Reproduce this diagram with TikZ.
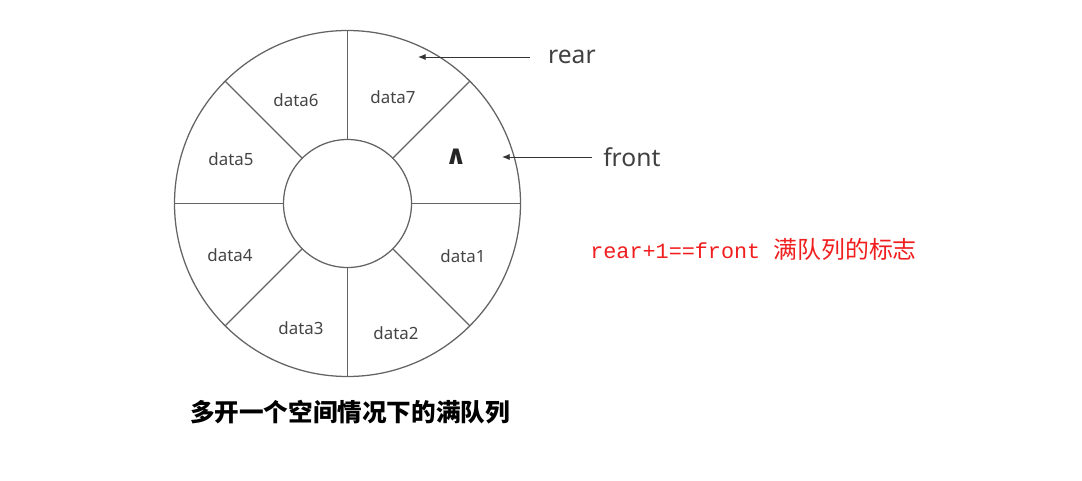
\documentclass[tikz,border=0pt]{standalone}
\usepackage{fontspec}
\setmainfont{Noto Sans}
\setmonofont{Liberation Mono}
\newfontfamily\cjk{Noto Sans CJK SC}
\newfontfamily\symbolfont{DejaVu Sans}
\usetikzlibrary{arrows.meta}

\definecolor{ringgray}{HTML}{646464}
\definecolor{labelgray}{HTML}{444444}
\definecolor{markred}{HTML}{F01E1E}

\tikzset{
  ring/.style={draw=ringgray,line width=0.9pt},
  slot/.style={text=labelgray,font=\fontsize{12}{14}\selectfont,inner sep=0pt},
  pointer/.style={-{Latex[length=5.5pt,width=4.5pt]},black!80,line width=0.7pt},
  ptrlabel/.style={text=black!75,font=\fontsize{17.5}{20}\selectfont,anchor=west},
}

\begin{document}
\begin{tikzpicture}[x=0.025cm,y=-0.025cm]
    \useasboundingbox (0,0) rectangle (1082,480);

    % ring buffer
    \begin{scope}[shift={(347.5,203.5)}]
        \draw[ring] (0,0) circle (173);
        \draw[ring] (0,0) circle (64);
        \draw[ring] (0:64) -- (0:173);
        \draw[ring] (45:64) -- (45:173);
        \draw[ring] (90:64) -- (90:173);
        \draw[ring] (135:64) -- (135:173);
        \draw[ring] (180:64) -- (180:173);
        \draw[ring] (225:64) -- (225:173);
        \draw[ring] (270:64) -- (270:173);
        \draw[ring] (315:64) -- (315:173);
    \end{scope}

    % slots
    \node[slot] (slot7) at (393,97) {data7};
    \node[slot,font=\symbolfont\bfseries\fontsize{19}{20}\selectfont,text=black!85] (slot0) at (456,157) {∧};
    \node[slot] (slot1) at (463,256) {data1};
    \node[slot] (slot2) at (396,333) {data2};
    \node[slot] (slot3) at (301,328) {data3};
    \node[slot] (slot4) at (230,255) {data4};
    \node[slot] (slot5) at (231,159) {data5};
    \node[slot] (slot6) at (296,100) {data6};

    % pointers
    \coordinate (reartip) at (418,57);
    \node[ptrlabel,inner xsep=12.7pt] (rear) at (530,57) {rear};
    \draw[pointer] (rear.west) -- (reartip);
    \coordinate (fronttip) at (502,157);
    \node[ptrlabel,inner xsep=7.8pt] (front) at (592,157) {front};
    \draw[pointer] (front.west) -- (fronttip);

    % full condition
    \node[anchor=west,inner sep=0pt,text=markred] (fullflag) at (590,249)
        {\ttfamily\fontsize{15.5}{18}\selectfont rear+1==front {\cjk\fontsize{17}{18}\selectfont 满队列的标志}};

    % caption
    \node[font=\cjk\bfseries\fontsize{17.5}{20}\selectfont] (caption) at (350,412) {多开一个空间情况下的满队列};
\end{tikzpicture}
\end{document}
